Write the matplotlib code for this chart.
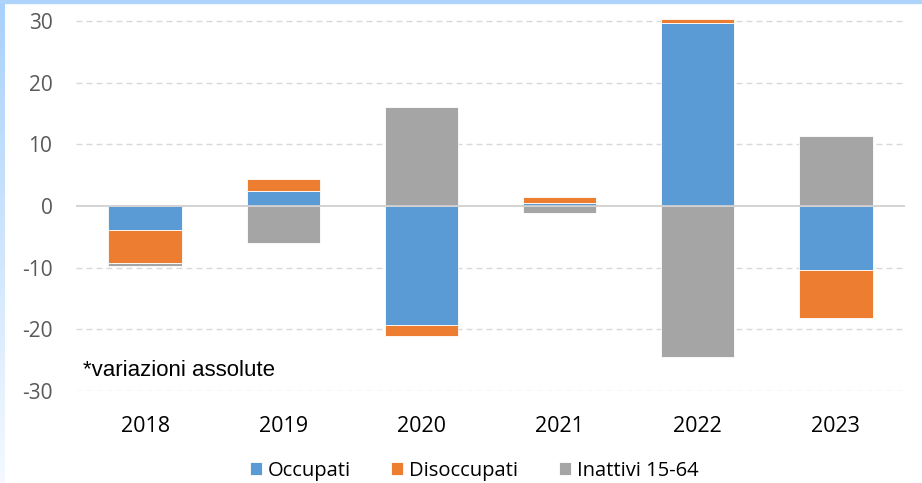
import numpy as np
import matplotlib.pyplot as plt
from matplotlib.patches import Rectangle

plt.rcParams['axes.unicode_minus'] = False

years = ['2018', '2019', '2020', '2021', '2022', '2023']
occupati = [-3.8, 2.4, -19.3, 0.45, 29.7, -10.3]
disoccupati = [-5.5, 2.0, -1.8, 0.95, 0.7, -7.9]
inattivi = [-0.4, -6.0, 16.0, -1.1, -24.5, 11.4]

c_occ = '#5B9BD5'
c_dis = '#ED7D31'
c_ina = '#A5A5A5'

fig = plt.figure(figsize=(9.22, 4.83), dpi=100)
ax = fig.add_axes([76 / 922, 92 / 483, (905 - 76) / 922, (468 - 92) / 483])

x = np.arange(len(years))
occ = np.array(occupati)
dis = np.array(disoccupati)
ina = np.array(inattivi)

# stacking like Excel: positives up from 0, negatives down from 0
pos = np.zeros(len(x))
neg = np.zeros(len(x))
w = 0.53
for vals, col, lab in [(occ, c_occ, 'Occupati'), (dis, c_dis, 'Disoccupati'), (ina, c_ina, 'Inattivi 15-64')]:
    base = np.where(vals >= 0, pos, neg)
    ax.bar(x, vals, w, bottom=base, color=col, edgecolor='white', linewidth=0.6, label=lab, zorder=3)
    pos = pos + np.where(vals >= 0, vals, 0)
    neg = neg + np.where(vals < 0, vals, 0)

ax.set_xlim(-0.5, len(x) - 0.5)
ax.set_ylim(-30, 31)
ax.set_yticks([-30, -20, -10, 0, 10, 20, 30])
for t in [-30, -20, -10, 10, 20, 30]:
    ax.axhline(t, color='#d9d9d9', linestyle=(0, (4.3, 2.9)), linewidth=1, zorder=1)
ax.axhline(0, color='#d0d0d0', linewidth=1.3, zorder=4)

for s in ax.spines.values():
    s.set_visible(False)
ax.tick_params(axis='both', length=0)
ax.tick_params(axis='y', labelsize=15, labelcolor='#595959', pad=17)
ax.tick_params(axis='x', labelsize=15.5, labelcolor='black', pad=18)
ax.set_xticks(x)
ax.set_xticklabels(years, fontfamily='Open Sans')
for lab in ax.get_yticklabels():
    lab.set_fontfamily('Open Sans')

ax.text(0.009, 0.054, '*variazioni assolute', transform=ax.transAxes, fontsize=16,
        fontfamily='Liberation Sans', ha='left', va='center')

leg = fig.legend(loc='center', bbox_to_anchor=(474 / 922, 0.025), ncol=3, frameon=False,
                 prop={'family': 'Open Sans', 'size': 14.5}, handlelength=0.6, handleheight=0.6,
                 handletextpad=0.3, columnspacing=2.0)

# light blue frame of the original screenshot
fig.patches.append(Rectangle((0, 480 / 483), 1, 3 / 483, transform=fig.transFigure,
                             color='#aed4fb', zorder=0))
gax = fig.add_axes([0, 0, 4 / 922, 1])
grad = np.linspace(0, 1, 100).reshape(-1, 1)
gax.imshow(grad, aspect='auto', cmap=plt.matplotlib.colors.LinearSegmentedColormap.from_list(
    'g', ['#f4f9ff', '#a9d1fb']), origin='lower')
gax.axis('off')

fig.savefig('out.png', dpi=100)
